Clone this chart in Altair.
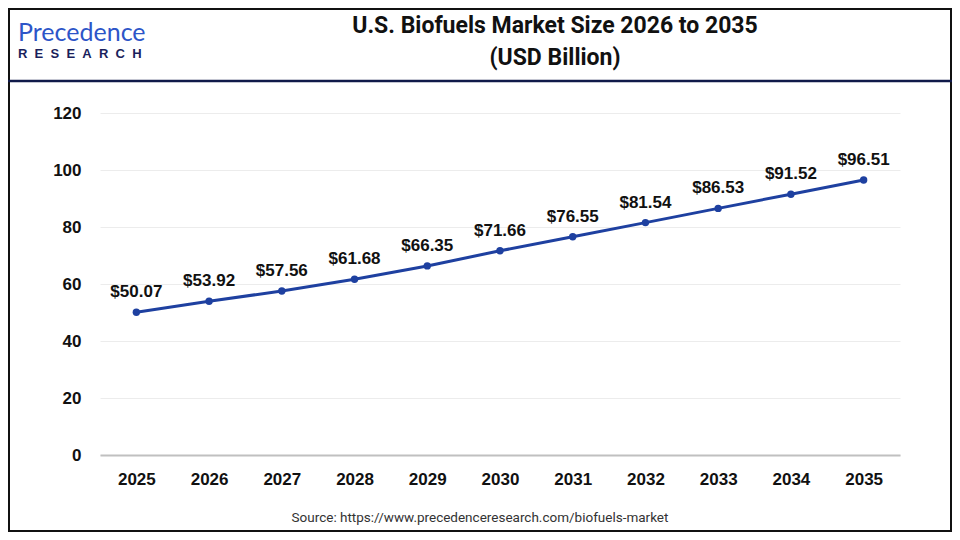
import altair as alt
import pandas as pd

years = ["2025", "2026", "2027", "2028", "2029", "2030", "2031", "2032", "2033", "2034", "2035"]
values = [50.07, 53.92, 57.56, 61.68, 66.35, 71.66, 76.55, 81.54, 86.53, 91.52, 96.51]
y_ticks = [0, 20, 40, 60, 80, 100, 120]
title_lines = ["U.S. Biofuels Market Size 2026 to 2035", "(USD Billion)"]
source_text = "Source: https://www.precedenceresearch.com/biofuels-market"

df = pd.DataFrame({"year": years, "value": values})
df["label"] = ["$" + f"{v:.2f}" for v in values]

LINE = "#1e40a0"
NARROW = "Liberation Sans Narrow, Arial Narrow, Roboto, sans-serif"
SANS = "Liberation Sans, Arial, sans-serif"

W, H = 800, 342

x_enc = alt.X("year:O", sort=years,
              scale=alt.Scale(type="point", padding=0.5),
              axis=alt.Axis(title=None, labelAngle=0, labelFontWeight="bold",
                            labelFontSize=17, labelFont=SANS, labelColor="#111",
                            labelPadding=16, ticks=False, domainColor="#c0c0c0",
                            domainWidth=2, grid=False))
y_enc = alt.Y("value:Q", scale=alt.Scale(domain=[0, 120]),
              axis=alt.Axis(values=y_ticks, title=None, ticks=False, domain=False,
                            gridColor="#ececec", gridWidth=1, labelPadding=19,
                            labelFontWeight="bold", labelFontSize=17, labelFont=SANS,
                            labelColor="#111"))

base = alt.Chart(df).encode(x=x_enc, y=y_enc)
line = base.mark_line(color=LINE, strokeWidth=3)
pts = base.mark_circle(color=LINE, size=55, opacity=1)
labels = base.mark_text(baseline="bottom", dy=-11, fontSize=17, fontWeight="bold",
                        font=SANS, color="#111").encode(text="label:N")

one = pd.DataFrame({"a": [0]})

def txt(s, x, y, **kw):
    return alt.Chart(one).mark_text(text=s, **kw).encode(x=alt.value(x), y=alt.value(y))

t1 = txt(title_lines[0], 455, -87, fontSize=23, fontWeight="bold", font=NARROW,
         color="#111", baseline="middle", align="center")
t2 = txt(title_lines[1], 455, -55, fontSize=23, fontWeight="bold", font=NARROW,
         color="#111", baseline="middle", align="center")
logo1 = txt("Precedence", -82, -80, fontSize=25, font="Lato, Noto Sans, sans-serif",
            color="#2d55c8", baseline="middle", align="left")
nb = "\u00a0\u00a0"
logo2 = txt(nb.join("RESEARCH"), -82, -59, fontSize=13, fontWeight="bold", font=SANS,
            color="#1a1f5c", baseline="middle", align="left")
src = txt(source_text, 380, 405, fontSize=13.5, font=NARROW, color="#333",
          baseline="middle", align="center")

header_rule = alt.Chart(one).mark_rule(color="#101a4a", strokeWidth=2.5).encode(
    x=alt.value(-92), x2=alt.value(852), y=alt.value(-32))
frame = alt.Chart(one).mark_rect(fill=None, stroke="#111", strokeWidth=2).encode(
    x=alt.value(-91), x2=alt.value(851), y=alt.value(-104), y2=alt.value(418))

chart = alt.layer(frame, header_rule, line, pts, labels, t1, t2, logo1, logo2, src).properties(
    width=W, height=H,
    autosize=alt.AutoSizeParams(type="none"),
    padding={"left": 92, "top": 105, "right": 52, "bottom": 77},
    background="white",
).configure_view(stroke=None)

chart.save("out.html", embed_options={"renderer": "svg", "actions": False})
